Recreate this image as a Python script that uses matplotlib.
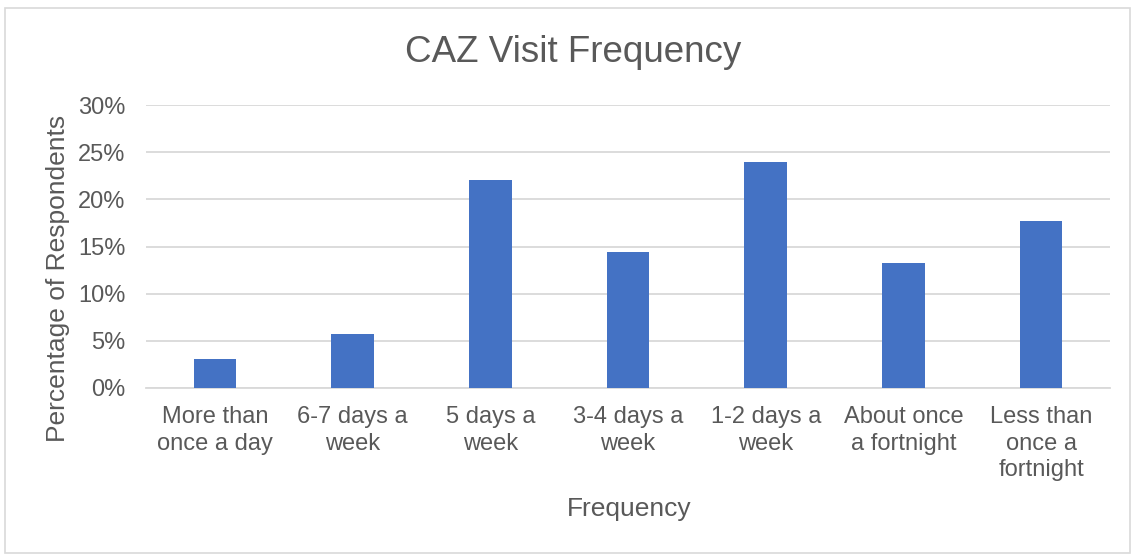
import numpy as np
import matplotlib.pyplot as plt
from matplotlib.patches import Rectangle
from matplotlib.ticker import PercentFormatter

plt.rcParams['font.family'] = ['Liberation Sans', 'DejaVu Sans']

# Data
categories = ['More than\nonce a day', '6-7 days a\nweek', '5 days a\nweek',
              '3-4 days a\nweek', '1-2 days a\nweek', 'About once\na fortnight',
              'Less than\nonce a\nfortnight']
percent = [3.05, 5.7, 22.0, 14.4, 24.0, 13.2, 17.7]
yticks = [0, 5, 10, 15, 20, 25, 30]

text_col = '#595959'
grid_col = '#D9D9D9'
bar_col = '#4472C4'

fig = plt.figure(figsize=(11.34, 5.54), dpi=100)
ax = fig.add_axes([146 / 1134, 1 - 388 / 554, (1110 - 146) / 1134, (388 - 105) / 554])

x = np.arange(len(categories))
ax.bar(x, percent, width=0.31, color=bar_col, zorder=3)

ax.set_xlim(-0.5, len(categories) - 0.5)
ax.set_ylim(0, 30)
ax.set_yticks(yticks)
ax.yaxis.set_major_formatter(PercentFormatter(decimals=0))
ax.set_xticks(x)
ax.set_xticklabels(categories, linespacing=1.27)

ax.grid(axis='y', color=grid_col, linewidth=1.3, zorder=0)
for s in ['top', 'right', 'left']:
    ax.spines[s].set_visible(False)
ax.spines['bottom'].set_color(grid_col)
ax.spines['bottom'].set_linewidth(1.3)
ax.tick_params(axis='both', length=0, labelsize=17, colors=text_col)
ax.tick_params(axis='y', pad=15)
ax.tick_params(axis='x', pad=13)

fig.text(0.505, 1 - 52 / 554, 'CAZ Visit Frequency', ha='center', va='center',
         fontsize=26.5, color=text_col)
fig.text(629 / 1134, 1 - 509 / 554, 'Frequency', ha='center', va='center',
         fontsize=19, color=text_col)
fig.text(58 / 1134, 1 - 278 / 554, 'Percentage of Respondents', ha='center', va='center',
         rotation=90, fontsize=19, color=text_col)

# chart border
fig.patches.append(Rectangle((5 / 1134, 0.002), 1125 / 1134, 1 - 8 / 554 - 0.002,
                             transform=fig.transFigure, fill=False,
                             edgecolor=grid_col, linewidth=1.2))

fig.savefig('out.png', dpi=100)
